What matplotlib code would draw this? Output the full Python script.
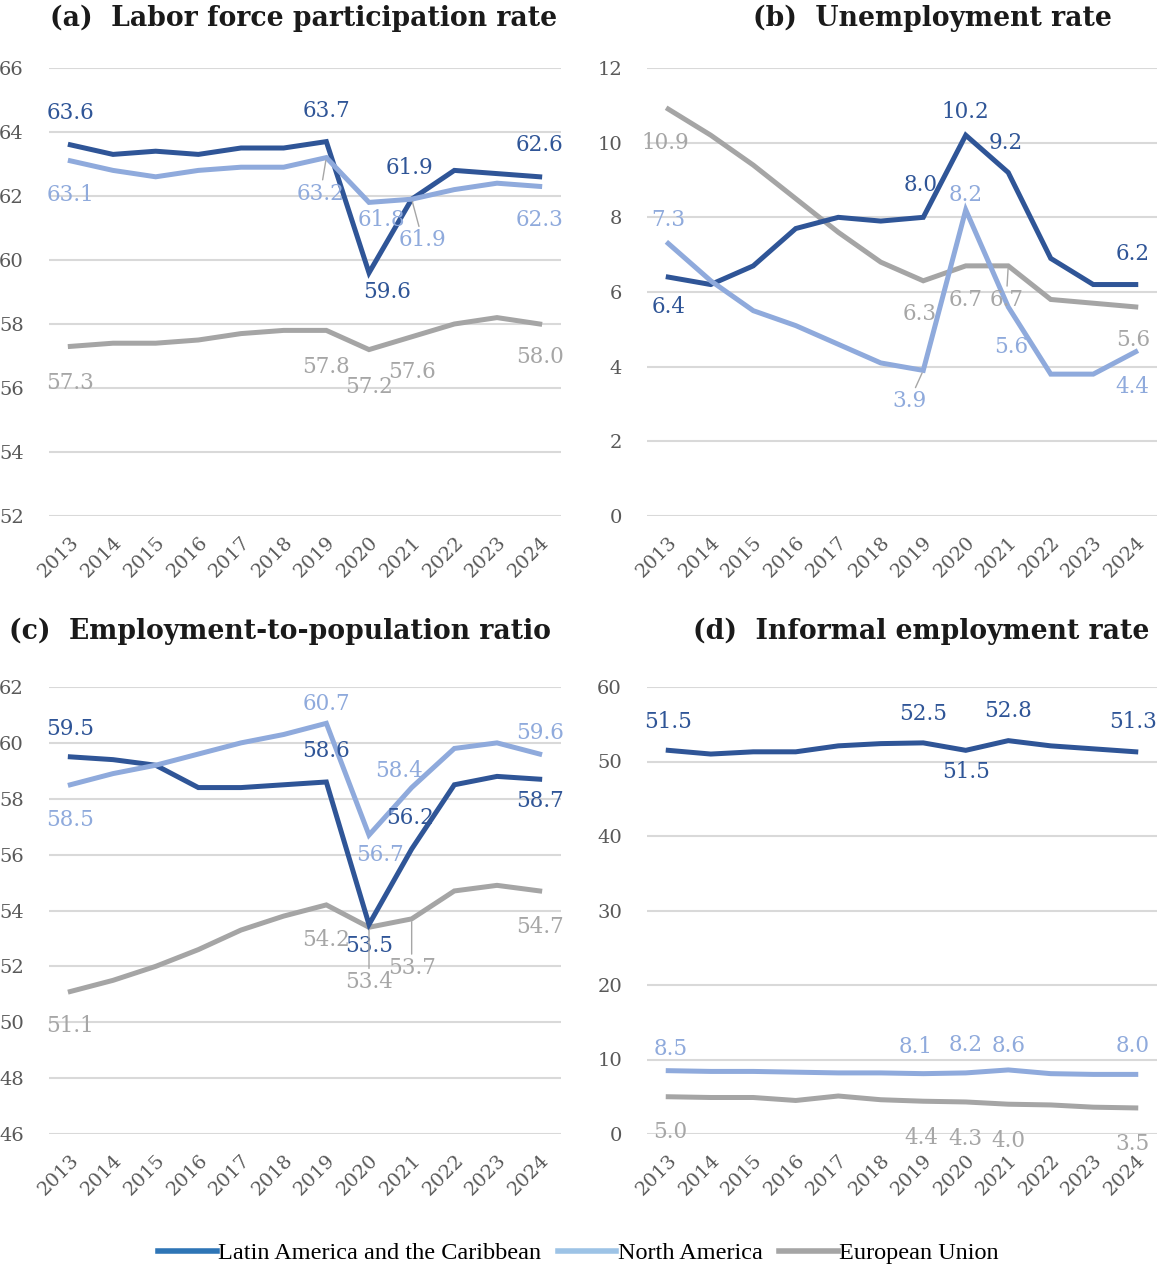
import matplotlib.pyplot as plt
from matplotlib.lines import Line2D

plt.rcParams['font.family'] = ['DejaVu Serif']

years = ['2013', '2014', '2015', '2016', '2017', '2018',
         '2019', '2020', '2021', '2022', '2023', '2024']
series_names = ['Latin America and the Caribbean', 'North America', 'European Union']

# (a) labor force participation rate
lfpr_lac = [63.6, 63.3, 63.4, 63.3, 63.5, 63.5, 63.7, 59.6, 61.9, 62.8, 62.7, 62.6]
lfpr_na = [63.1, 62.8, 62.6, 62.8, 62.9, 62.9, 63.2, 61.8, 61.9, 62.2, 62.4, 62.3]
lfpr_eu = [57.3, 57.4, 57.4, 57.5, 57.7, 57.8, 57.8, 57.2, 57.6, 58.0, 58.2, 58.0]

# (b) unemployment rate
unemp_lac = [6.4, 6.2, 6.7, 7.7, 8.0, 7.9, 8.0, 10.2, 9.2, 6.9, 6.2, 6.2]
unemp_na = [7.3, 6.3, 5.5, 5.1, 4.6, 4.1, 3.9, 8.2, 5.6, 3.8, 3.8, 4.4]
unemp_eu = [10.9, 10.2, 9.4, 8.5, 7.6, 6.8, 6.3, 6.7, 6.7, 5.8, 5.7, 5.6]

# (c) employment-to-population ratio
epr_lac = [59.5, 59.4, 59.2, 58.4, 58.4, 58.5, 58.6, 53.5, 56.2, 58.5, 58.8, 58.7]
epr_na = [58.5, 58.9, 59.2, 59.6, 60.0, 60.3, 60.7, 56.7, 58.4, 59.8, 60.0, 59.6]
epr_eu = [51.1, 51.5, 52.0, 52.6, 53.3, 53.8, 54.2, 53.4, 53.7, 54.7, 54.9, 54.7]

# (d) informal employment rate
inf_lac = [51.5, 51.0, 51.3, 51.3, 52.1, 52.4, 52.5, 51.5, 52.8, 52.1, 51.7, 51.3]
inf_na = [8.5, 8.4, 8.4, 8.3, 8.2, 8.2, 8.1, 8.2, 8.6, 8.1, 8.0, 8.0]
inf_eu = [5.0, 4.9, 4.9, 4.5, 5.1, 4.6, 4.4, 4.3, 4.0, 3.9, 3.6, 3.5]

LAC_C = '#2F5597'
NA_C = '#8FAADC'
EU_C = '#A5A5A5'
LABEL_C = {'lac': LAC_C, 'na': NA_C, 'eu': '#A6A6A6'}

W, H = 1157, 1268
fig = plt.figure(figsize=(W / 100, H / 100), dpi=100)


def rect(x0, x1, ytop, ybot):
    return [x0 / W, 1 - ybot / H, (x1 - x0) / W, (ybot - ytop) / H]


# label placement: (series, year index, dx px, dy px, leader line)
labels_a = [
    ('lac', 0, 0, -32, False), ('lac', 6, 0, -31, False), ('lac', 7, 18, 19, False),
    ('lac', 8, -2, -31, False), ('lac', 11, 0, -32, False),
    ('na', 0, 0, 34, False), ('na', 6, -6, 36, True), ('na', 7, 12, 18, False),
    ('na', 8, 11, 41, True), ('na', 11, 0, 34, False),
    ('eu', 0, 0, 37, False), ('eu', 6, 0, 37, False), ('eu', 7, 0, 37, False),
    ('eu', 8, 0, 35, False), ('eu', 11, 0, 33, False),
]
labels_b = [
    ('lac', 0, 0, 30, False), ('lac', 6, -3, -32, False), ('lac', 7, 0, -23, False),
    ('lac', 8, -3, -30, False), ('lac', 11, -3, -31, False),
    ('na', 0, 0, -23, False), ('na', 6, -14, 31, True), ('na', 7, 0, -15, False),
    ('na', 8, 3, 40, False), ('na', 11, -3, 35, False),
    ('eu', 0, -3, 34, False), ('eu', 6, -4, 33, False), ('eu', 7, 0, 34, False),
    ('eu', 8, -2, 34, True), ('eu', 11, -3, 33, False),
]
labels_c = [
    ('lac', 0, 0, -28, False), ('lac', 6, 0, -31, False), ('lac', 7, 0, 22, False),
    ('lac', 8, -2, -31, False), ('lac', 11, 0, 22, False),
    ('na', 0, 0, 35, False), ('na', 6, 0, -19, False), ('na', 7, 11, 20, False),
    ('na', 8, -13, -17, False), ('na', 11, 0, -21, False),
    ('eu', 0, 0, 34, False), ('eu', 6, 0, 35, False), ('eu', 7, 0, 55, True),
    ('eu', 8, 0, 49, True), ('eu', 11, 0, 36, False),
]
labels_d = [
    ('lac', 0, 0, -28, False), ('lac', 6, 0, -29, False), ('lac', 7, 0, 22, False),
    ('lac', 8, 0, -30, False), ('lac', 11, -3, -30, False),
    ('na', 0, 2, -22, False), ('na', 6, -8, -27, False), ('na', 7, 0, -28, False),
    ('na', 8, 0, -24, False), ('na', 11, -3, -28, False),
    ('eu', 0, 2, 35, False), ('eu', 6, -2, 37, False), ('eu', 7, 0, 37, False),
    ('eu', 8, 0, 37, False), ('eu', 11, -3, 36, False),
]

panels = [
    ('(a)  Labor force participation rate', rect(49, 561, 68, 516), (304, 18), (52, 66), 2,
     {'lac': lfpr_lac, 'na': lfpr_na, 'eu': lfpr_eu}, labels_a),
    ('(b)  Unemployment rate', rect(647, 1157, 68, 516), (932, 18), (0, 12), 2,
     {'lac': unemp_lac, 'na': unemp_na, 'eu': unemp_eu}, labels_b),
    ('(c)  Employment-to-population ratio', rect(49, 561, 687, 1134), (280, 631), (46, 62), 2,
     {'lac': epr_lac, 'na': epr_na, 'eu': epr_eu}, labels_c),
    ('(d)  Informal employment rate', rect(647, 1157, 687, 1134), (921, 631), (0, 60), 10,
     {'lac': inf_lac, 'na': inf_na, 'eu': inf_eu}, labels_d),
]

x = list(range(len(years)))
for title, r, tpos, ylim, step, data, labels in panels:
    ax = fig.add_axes(r)
    ax.set_xlim(-0.5, len(years) - 0.5)
    ax.set_ylim(*ylim)
    ax.set_yticks(range(ylim[0], ylim[1] + 1, step))
    ax.grid(axis='y', color='#D9D9D9', lw=1.5, zorder=0)
    ax.set_axisbelow(True)
    for s in ax.spines.values():
        s.set_visible(False)
    ax.tick_params(length=0, labelsize=14, labelcolor='#595959')
    ax.tick_params(axis='y', pad=18)
    ax.set_xticks(x)
    ax.set_xticklabels(years, rotation=45, ha='right', rotation_mode='anchor')
    ax.tick_params(axis='x', pad=12)

    ax.plot(x, data['eu'], color=EU_C, lw=3.6, solid_joinstyle='miter', zorder=2)
    ax.plot(x, data['lac'], color=LAC_C, lw=3.6, solid_joinstyle='miter', zorder=3)
    ax.plot(x, data['na'], color=NA_C, lw=3.6, solid_joinstyle='miter', zorder=4)

    for key, i, dx, dy, leader in labels:
        v = data[key][i]
        arrow = dict(arrowstyle='-', color='#A6A6A6', lw=1, shrinkA=0, shrinkB=2) if leader else None
        ax.annotate(f'{v:.1f}', (i, v), xytext=(dx, -dy), textcoords='offset pixels',
                    ha='center', va='center', fontsize=15.5, color=LABEL_C[key],
                    arrowprops=arrow, zorder=5, annotation_clip=False)

    fig.text(tpos[0] / W, 1 - tpos[1] / H, title, ha='center', va='center',
             fontsize=19.2, fontweight='bold', color='#1a1a1a')

handles = [Line2D([], [], color='#2E75B6', lw=4),
           Line2D([], [], color='#9DC3E6', lw=4),
           Line2D([], [], color='#A5A5A5', lw=4)]
fig.legend(handles, series_names, loc='center', bbox_to_anchor=(0.5, 1 - 1253 / H),
           ncol=3, frameon=False, handlelength=2.4, handletextpad=0.05,
           columnspacing=0.7, prop={'family': 'Liberation Serif', 'size': 17.5})

fig.savefig('out.png', dpi=100)
